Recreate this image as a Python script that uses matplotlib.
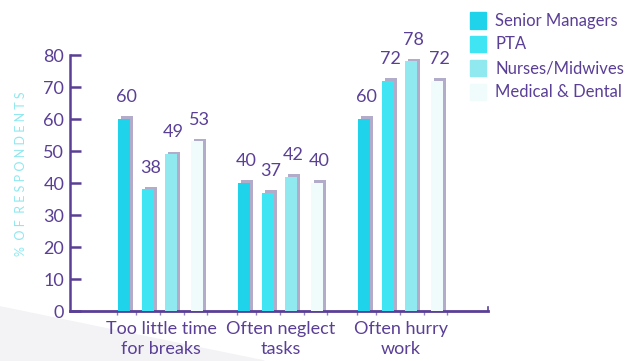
import numpy as np
import matplotlib.pyplot as plt
from matplotlib.patches import Polygon

plt.rcParams['font.family'] = ['Lato', 'DejaVu Sans']

groups = ['Too little time\nfor breaks', 'Often neglect\ntasks', 'Often hurry\nwork']
series = ['Senior Managers', 'PTA', 'Nurses/Midwives', 'Medical & Dental']
senior = [60, 40, 60]
pta = [38, 37, 72]
nurses = [49, 42, 78]
medical = [53, 40, 72]

colors = ['#1ed3ea', '#3fe5f2', '#8fe9ee', '#f0fbfc']
shade = '#b3abca'
purple = '#5a3f96'

fig = plt.figure(figsize=(6.29, 3.61), dpi=100)
fig.patch.set_facecolor('white')

# faint background swoosh
fig.patches.append(Polygon([[0, 0], [0, 0.15], [0.42, 0.0]], closed=True,
                           transform=fig.transFigure, color='#f3f3f6',
                           zorder=-5))

ax = fig.add_axes([0.111, 0.1385, 0.665, 0.709])
ax.set_facecolor('none')

x = np.arange(len(groups))
offsets = [-0.31, -0.11, 0.08, 0.3]
w = 0.1
for vals, off, c in zip([senior, pta, nurses, medical], offsets, colors):
    # grey side shadow drawn behind each bar
    ax.bar(x + off + 0.025, vals, width=w, color=shade, zorder=2)
    ax.bar(x + off + 0.025, [1.0] * len(vals), bottom=np.array(vals) - 0.2,
           width=w, color=shade, zorder=2)
    ax.bar(x + off, vals, width=w, color=c, zorder=3)
    for xi, v in zip(x + off, vals):
        ax.text(xi + 0.02, v + 4.3, str(v), ha='center', va='bottom',
                color=purple, fontsize=13)

ax.set_xlim(-0.76, 2.725)
ax.set_ylim(0, 80)
ax.set_yticks(range(0, 81, 10))
ax.set_yticklabels(['0', '10', '20', '30', '40', '50', '60', '70', '80'])
ax.set_xticks(x)
ax.set_xticklabels(groups, color=purple, fontsize=13, linespacing=1.3)
ax.tick_params(axis='x', length=0, pad=7)
ax.tick_params(axis='y', direction='in', length=8, width=1.8, color=purple,
               labelcolor=purple, labelsize=13, pad=4)

# small marks along the base between bars
minor = []
for xi in x:
    minor += [xi - 0.37, xi - 0.21, xi - 0.01, xi + 0.19, xi + 0.38]
ax.set_xticks(minor, minor=True)
ax.tick_params(axis='x', which='minor', direction='out', length=3,
               width=1, color='#8f80b8')

for s in ['top', 'right']:
    ax.spines[s].set_visible(False)
ax.spines['left'].set_color(purple)
ax.spines['left'].set_linewidth(1.8)
ax.spines['bottom'].set_color(purple)
ax.spines['bottom'].set_linewidth(2)
ax.plot([2.725, 2.725], [0, 1.2], color=purple, lw=1.2, clip_on=False)

fig.text(0.034, 0.52, '%  O F  R E S P O N D E N T S', rotation=90,
         ha='center', va='center', color='#8fe8ef', fontsize=9)

# legend
for i, (name, c) in enumerate(zip(series, colors)):
    ybox = 0.943 - i * 0.066
    fig.patches.append(plt.Rectangle((0.748, ybox - 0.022), 0.025, 0.045,
                                     transform=fig.transFigure, color=c))
    fig.text(0.787, ybox, name, ha='left', va='center', color=purple,
             fontsize=12)

fig.savefig('out.png', dpi=100)
